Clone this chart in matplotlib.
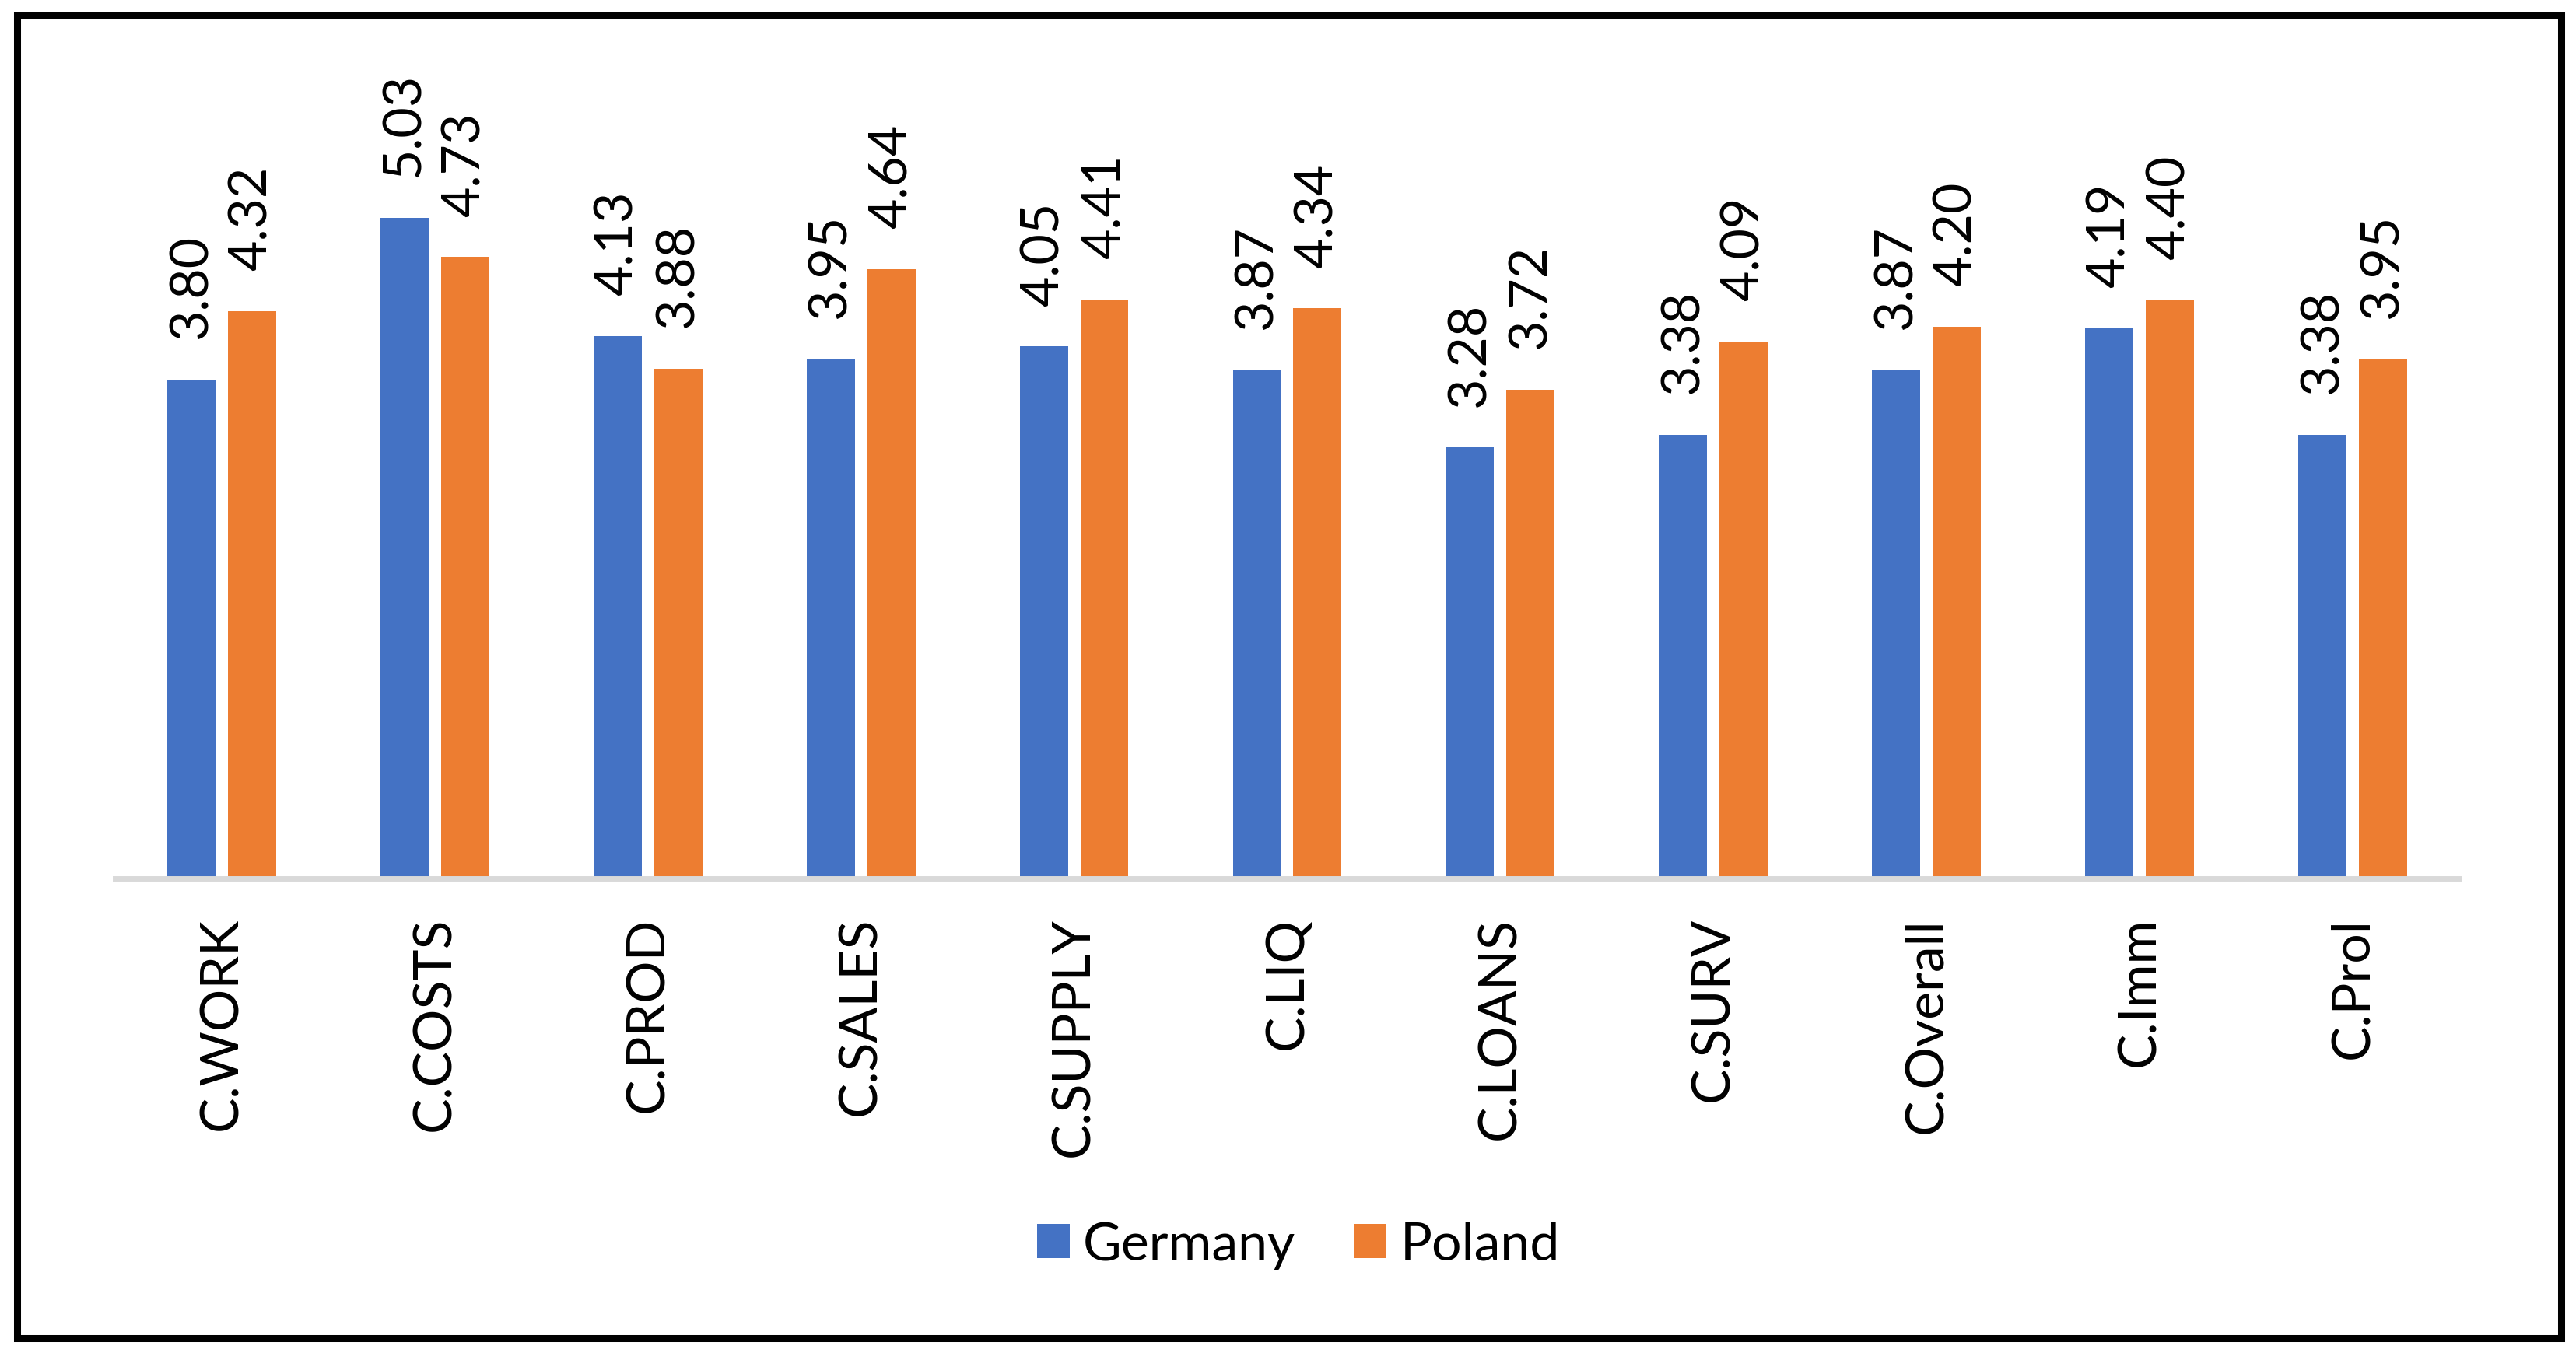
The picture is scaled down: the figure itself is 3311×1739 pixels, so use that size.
import numpy as np
import matplotlib
matplotlib.use('Agg')
import matplotlib.pyplot as plt
from matplotlib.patches import Rectangle

plt.rcParams['font.family'] = ['Lato', 'DejaVu Sans']

categories = ['C.WORK', 'C.COSTS', 'C.PROD', 'C.SALES', 'C.SUPPLY', 'C.LIQ',
              'C.LOANS', 'C.SURV', 'C.Overall', 'C.Imm', 'C.Prol']
germany = [3.80, 5.03, 4.13, 3.95, 4.05, 3.87, 3.28, 3.38, 3.87, 4.19, 3.38]
poland = [4.32, 4.73, 3.88, 4.64, 4.41, 4.34, 3.72, 4.09, 4.20, 4.40, 3.95]

blue = '#4472C4'
orange = '#ED7D31'

fig = plt.figure(figsize=(33.11, 17.40), dpi=100)
ax = fig.add_axes([0.0447, 0.3503, 0.9100, 0.5825])

x = np.arange(len(categories))
w = 0.226
off = 0.142
b1 = ax.bar(x - off, germany, w, color=blue, label='Germany', zorder=2)
b2 = ax.bar(x + off, poland, w, color=orange, label='Poland', zorder=2)

# value labels, rotated like the original
for bars, vals in ((b1, germany), (b2, poland)):
    for r, v in zip(bars, vals):
        ax.annotate('%.2f' % v, (r.get_x() + r.get_width() / 2, v),
                    xytext=(0, 38), textcoords='offset points',
                    ha='center', va='bottom', rotation=90, fontsize=49)

ax.set_xlim(-0.5, 10.5)
ax.set_ylim(0, 6)
ax.set_xticks(x)
ax.set_xticklabels(categories, rotation=90, fontsize=49)
ax.tick_params(axis='x', length=0, pad=35)
ax.set_yticks([])
for s in ('top', 'left', 'right'):
    ax.spines[s].set_visible(False)
ax.spines['bottom'].set_color('#D9D9D9')
ax.spines['bottom'].set_linewidth(5)
ax.spines['bottom'].set_zorder(3)

fig.legend(handles=[b1, b2], labels=['Germany', 'Poland'], loc='center',
           bbox_to_anchor=(0.504, 0.0800), ncol=2, frameon=False,
           fontsize=49, handlelength=0.62, handleheight=0.62,
           handletextpad=0.25, columnspacing=1.1)

# outer black frame
fig.patches.append(Rectangle((21.5 / 3311, 1 - 1720.5 / 1740),
                             (3291.5 - 21.5) / 3311, (1720.5 - 20.5) / 1740,
                             transform=fig.transFigure, fill=False,
                             edgecolor='black', linewidth=6.5))

fig.savefig('out.png', dpi=100)
